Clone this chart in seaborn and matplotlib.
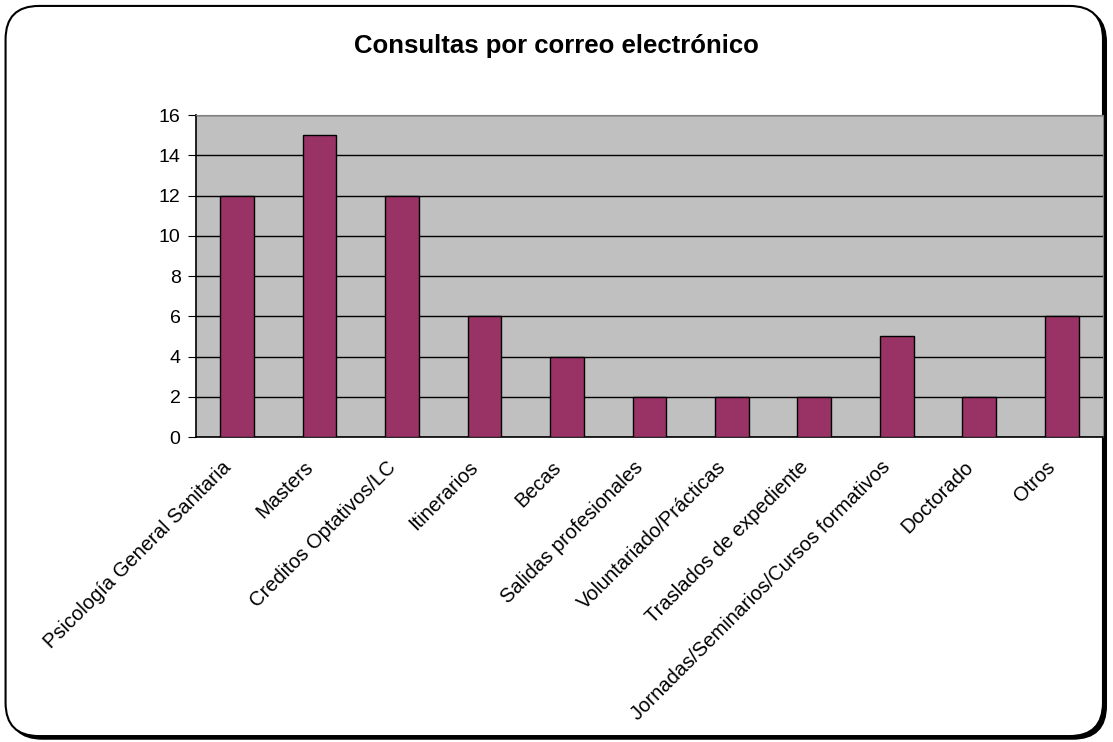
import matplotlib
matplotlib.use("Agg")
import matplotlib.pyplot as plt
import matplotlib.transforms as mtrans
import seaborn as sns
import pandas as pd
from matplotlib.patches import FancyBboxPatch

categorias = ["Psicología General Sanitaria", "Masters", "Creditos Optativos/LC",
              "Itinerarios", "Becas", "Salidas profesionales",
              "Voluntariado/Prácticas", "Traslados de expediente",
              "Jornadas/Seminarios/Cursos formativos", "Doctorado", "Otros"]
consultas = [12, 15, 12, 6, 4, 2, 2, 2, 5, 2, 6]
yticks = [0, 2, 4, 6, 8, 10, 12, 14, 16]

df = pd.DataFrame({"categoria": categorias, "consultas": consultas})

sns.set_style("white")
plt.rcParams["font.family"] = ["Liberation Sans", "DejaVu Sans"]
plt.rcParams["text.color"] = "black"
plt.rcParams["xtick.color"] = "black"
plt.rcParams["ytick.color"] = "black"
plt.rcParams["xtick.labelcolor"] = "black"
plt.rcParams["ytick.labelcolor"] = "black"

fig = plt.figure(figsize=(11.13, 7.42), dpi=100)

# rounded frame with a shadow
shadow = FancyBboxPatch((0.008, 0.004), 0.986, 0.984,
                        boxstyle="round,pad=0,rounding_size=0.03",
                        transform=fig.transFigure, facecolor="black",
                        edgecolor="black", zorder=0, mutation_aspect=1.5)
frame = FancyBboxPatch((0.005, 0.008), 0.986, 0.984,
                       boxstyle="round,pad=0,rounding_size=0.03",
                       transform=fig.transFigure, facecolor="white",
                       edgecolor="black", linewidth=1.5, zorder=1, mutation_aspect=1.5)
fig.patches.extend([shadow, frame])

ax = fig.add_axes([0.176, 0.411, 0.815, 0.434])
ax.set_facecolor("#c0c0c0")
ax.set_zorder(2)

sns.barplot(data=df, x="categoria", y="consultas", color="#993366",
            saturation=1, width=0.41, edgecolor="black", linewidth=1,
            ax=ax, zorder=3)

ax.set_ylim(0, 16)
ax.set_xlim(-0.5, len(categorias) - 0.5)
ax.set_yticks(yticks)
ax.yaxis.grid(True, color="black", linewidth=1)
ax.set_axisbelow(True)

ax.set_xticks(range(len(categorias)))
ax.set_xticklabels(categorias, rotation=45, ha="right", rotation_mode="anchor",
                   fontsize=14.5)
ax.tick_params(axis="x", length=0, pad=14)
# nudge the rotated labels a little left, like the original
shift = mtrans.ScaledTranslation(-0.16, -0.01, fig.dpi_scale_trans)
for lab in ax.get_xticklabels():
    lab.set_transform(lab.get_transform() + shift)
ax.set_xticks([i - 0.5 for i in range(len(categorias) + 1)], minor=True)
ax.tick_params(axis="x", which="minor", length=6, color="black", direction="out")
ax.tick_params(axis="y", length=6, color="black", direction="out", labelsize=14,
               left=True, pad=5)

ax.set_xlabel("")
ax.set_ylabel("")
for s in ["left", "bottom"]:
    ax.spines[s].set_color("black")
    ax.spines[s].set_linewidth(1.2)
for s in ["top", "right"]:
    ax.spines[s].set_color("#808080")

fig.text(0.5, 0.938, "Consultas por correo electrónico", ha="center", va="center",
         fontsize=18.5, fontweight="bold")

fig.savefig("out.png", dpi=100)
